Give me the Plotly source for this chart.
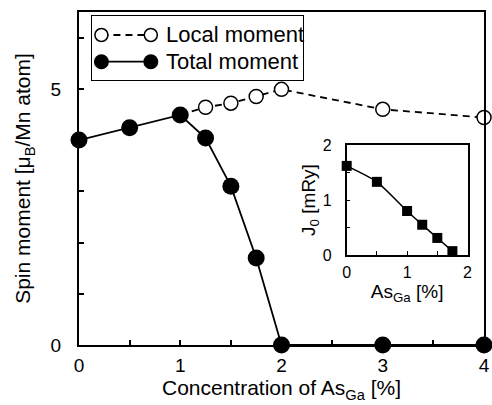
import plotly.graph_objects as go

# ---- data ----
conc_total = [0, 0.5, 1.0, 1.25, 1.5, 1.75, 2.0, 3.0, 4.0]
total_moment = [4.0, 4.24, 4.49, 4.04, 3.1, 1.7, 0.0, 0.0, 0.0]
conc_local = [1.0, 1.25, 1.5, 1.75, 2.0, 3.0, 4.0]
local_moment = [4.49, 4.64, 4.72, 4.85, 4.99, 4.60, 4.44]
inset_x = [0, 0.5, 1.0, 1.25, 1.5, 1.75]
inset_j0 = [1.62, 1.33, 0.80, 0.55, 0.31, 0.07]
main_xticks = [0, 1, 2, 3, 4]
main_yticks = [0, 5]
inset_ticks = [0, 1, 2]
legend_labels = ["Local moment", "Total moment"]

FONT = "Liberation Sans, Arial, sans-serif"
W, H = 492, 405
L, R, T, B = 79, 3, 12, 60
pw, ph = W - L - R, H - T - B


def px_x(p):
    return (p - L) / pw


def px_y(p):
    return (H - B - p) / ph


fig = go.Figure()

# main traces
fig.add_trace(go.Scatter(x=conc_local, y=local_moment, mode="lines+markers",
                         line=dict(color="black", width=1.8, dash="7px,5px"),
                         marker=dict(symbol="circle", size=14, color="white",
                                     line=dict(color="black", width=1.5)),
                         showlegend=False, cliponaxis=False))
fig.add_trace(go.Scatter(x=conc_total, y=total_moment, mode="lines+markers",
                         line=dict(color="black", width=1.8),
                         marker=dict(symbol="circle", size=17, color="black"),
                         showlegend=False, cliponaxis=False))

# inset trace
fig.add_trace(go.Scatter(x=inset_x, y=inset_j0, mode="lines+markers",
                         xaxis="x2", yaxis="y2",
                         line=dict(color="black", width=1.5, shape="spline", smoothing=0.6),
                         marker=dict(symbol="square", size=10, color="black"),
                         showlegend=False, cliponaxis=False))

# custom legend (glyphs drawn in a legend-box axis)
leg_w, leg_h = 214, 64.3
rows_y = [45, 18.3]
glyph_x = [9.7, 59.7]
for i, lab in enumerate(legend_labels):
    if i == 0:
        fig.add_trace(go.Scatter(x=glyph_x, y=[rows_y[i]] * 2, xaxis="x3", yaxis="y3",
                                 mode="lines+markers",
                                 line=dict(color="black", width=1.8, dash="7px,5px"),
                                 marker=dict(symbol="circle", size=13, color="white",
                                             line=dict(color="black", width=1.5)),
                                 showlegend=False, cliponaxis=False, hoverinfo="skip"))
    else:
        fig.add_trace(go.Scatter(x=glyph_x, y=[rows_y[i]] * 2, xaxis="x3", yaxis="y3",
                                 mode="lines+markers",
                                 line=dict(color="black", width=1.8),
                                 marker=dict(symbol="circle", size=15, color="black"),
                                 showlegend=False, cliponaxis=False, hoverinfo="skip"))
    fig.add_annotation(x=73, y=rows_y[i], xref="x3", yref="y3", text=lab,
                       showarrow=False, xanchor="left", yanchor="middle",
                       font=dict(size=22, color="black", family=FONT))


def ticktext(vals, labels):
    return [("%g" % v) if v in labels else "" for v in vals]


main_xvals = [i * 0.5 for i in range(9)]
main_yvals = list(range(7))
inset_vals = [0, 0.5, 1, 1.5, 2]

fig.update_layout(
    width=W, height=H,
    margin=dict(l=L, r=R, t=T, b=B),
    paper_bgcolor="white", plot_bgcolor="white",
    font=dict(family=FONT, color="black", size=18),
    showlegend=False,
    xaxis=dict(range=[0, 4], domain=[0, 1], showgrid=False, zeroline=False,
               showline=True, linecolor="black", linewidth=2, mirror=True,
               ticks="inside", ticklen=5, tickwidth=1.5, tickcolor="black",
               tickvals=main_xvals, ticktext=ticktext(main_xvals, main_xticks),
               tickfont=dict(size=19), ticklabelstandoff=2,
               title=dict(text="Concentration of As<sub>Ga</sub> [%]",
                          font=dict(size=21), standoff=6)),
    yaxis=dict(range=[0, 6.5], domain=[0, 1], showgrid=False, zeroline=False,
               showline=True, linecolor="black", linewidth=2, mirror=True,
               ticks="inside", ticklen=5, tickwidth=1.5, tickcolor="black",
               tickvals=main_yvals, ticktext=ticktext(main_yvals, main_yticks),
               tickfont=dict(size=19), ticklabelstandoff=12,
               title=dict(text="Spin moment [μ<sub>B</sub>/Mn atom]",
                          font=dict(size=21), standoff=14)),
    xaxis2=dict(range=[0, 2], domain=[px_x(350), px_x(472.3)], anchor="y2",
                showgrid=False, zeroline=False,
                showline=True, linecolor="black", linewidth=1.5, mirror=True,
                ticks="inside", ticklen=4, tickwidth=1.2, tickcolor="black",
                tickvals=inset_vals, ticktext=ticktext(inset_vals, inset_ticks),
                tickfont=dict(size=16), ticklabelstandoff=2,
                title=dict(text="As<sub>Ga</sub> [%]", font=dict(size=19), standoff=4)),
    yaxis2=dict(range=[0, 2], domain=[px_y(255), px_y(145)], anchor="x2",
                showgrid=False, zeroline=False,
                showline=True, linecolor="black", linewidth=1.5, mirror=True,
                ticks="inside", ticklen=4, tickwidth=1.2, tickcolor="black",
                tickvals=inset_vals, ticktext=ticktext(inset_vals, inset_ticks),
                tickfont=dict(size=16), ticklabelstandoff=10,
                title=dict(text="J<sub>0</sub> [mRy]", font=dict(size=19), standoff=2)),
    xaxis3=dict(range=[0, leg_w], domain=[px_x(92), px_x(306)], anchor="y3",
                showgrid=False, zeroline=False, showticklabels=False, ticks="",
                showline=True, linecolor="black", linewidth=1, mirror=True),
    yaxis3=dict(range=[0, leg_h], domain=[px_y(80), px_y(15.7)], anchor="x3",
                showgrid=False, zeroline=False, showticklabels=False, ticks="",
                showline=True, linecolor="black", linewidth=1, mirror=True),
)

fig.write_html("out.html")
